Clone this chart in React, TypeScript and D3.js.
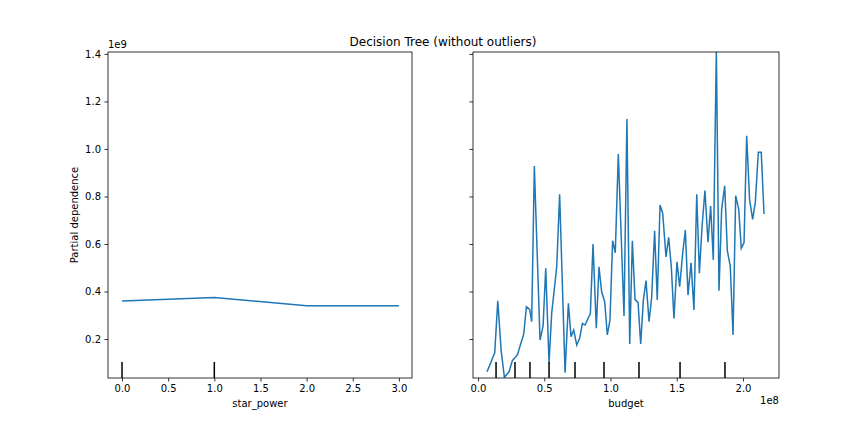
import { axisBottom, axisLeft, line, scaleLinear, select } from 'd3';
import { useEffect, useRef } from 'react';

const starPower = [0, 1, 2, 3];
const starPowerPd = [0.36, 0.375, 0.34, 0.34];
const starPowerDeciles = [0, 1];

const budget = [
  0.068, 0.126, 0.149, 0.174, 0.199, 0.234, 0.259, 0.297, 0.345, 0.365, 0.39, 0.405, 0.425, 0.468,
  0.491, 0.511, 0.536, 0.556, 0.594, 0.616, 0.657, 0.682, 0.702, 0.722, 0.745, 0.767, 0.788, 0.808,
  0.848, 0.868, 0.893, 0.913, 0.933, 0.956, 0.976, 0.996, 1.016, 1.036, 1.059, 1.102, 1.124, 1.145,
  1.165, 1.185, 1.208, 1.228, 1.248, 1.268, 1.291, 1.311, 1.333, 1.353, 1.374, 1.394, 1.419, 1.439,
  1.459, 1.479, 1.502, 1.522, 1.545, 1.565, 1.585, 1.608, 1.63, 1.651, 1.671, 1.691, 1.713, 1.736,
  1.756, 1.776, 1.799, 1.819, 1.839, 1.862, 1.882, 1.904, 1.925, 1.945, 1.968, 1.987, 2.008, 2.028,
  2.05, 2.073, 2.093, 2.116, 2.138, 2.159,
];
const budgetPd = [
  0.062, 0.142, 0.361, 0.154, 0.039, 0.062, 0.109, 0.133, 0.221, 0.336, 0.325, 0.273, 0.928, 0.196,
  0.255, 0.498, 0.1, 0.308, 0.504, 0.809, 0.058, 0.35, 0.21, 0.238, 0.175, 0.203, 0.266, 0.259,
  0.308, 0.6, 0.245, 0.504, 0.399, 0.357, 0.217, 0.28, 0.614, 0.563, 0.979, 0.297, 1.126, 0.179,
  0.614, 0.367, 0.353, 0.179, 0.364, 0.446, 0.273, 0.378, 0.656, 0.364, 0.764, 0.729, 0.546, 0.628,
  0.504, 0.287, 0.525, 0.42, 0.561, 0.659, 0.385, 0.521, 0.322, 0.809, 0.477, 0.673, 0.825, 0.608,
  0.76, 0.533, 1.42, 0.403, 0.746, 0.845, 0.572, 0.507, 0.217, 0.803, 0.746, 0.582, 0.606, 1.055,
  0.788, 0.704, 0.774, 0.986, 0.986, 0.726,
];
const budgetDeciles = [0.136, 0.279, 0.392, 0.536, 0.732, 0.951, 1.215, 1.525, 1.864];

const yTicks = [0.2, 0.4, 0.6, 0.8, 1.0, 1.2, 1.4];
const starTicks = [0, 0.5, 1, 1.5, 2, 2.5, 3];
const budgetTicks = [0, 0.5, 1, 1.5, 2];

const top = 52;
const bottom = 378;
const font = 'DejaVu Sans, sans-serif';
const blue = '#1f77b4';

const yScale = scaleLinear().domain([0.036, 1.408]).range([bottom, top]);

interface PanelProps {
  left: number;
  right: number;
  domain: [number, number];
  xs: number[];
  ys: number[];
  deciles: number[];
  xTicks: number[];
  xLabel: string;
  yLabels: boolean;
  id: string;
}

const Panel = ({ left, right, domain, xs, ys, deciles, xTicks, xLabel, yLabels, id }: PanelProps) => {
  const xRef = useRef<SVGGElement>(null);
  const yRef = useRef<SVGGElement>(null);
  const x = scaleLinear().domain(domain).range([left, right]);

  useEffect(() => {
    const style = (g: any) => {
      g.select('.domain').remove();
      g.selectAll('.tick line').attr('stroke', '#000').attr('stroke-width', 0.8);
      g.selectAll('.tick text').attr('font-family', font).attr('font-size', 10).attr('fill', '#000');
    };
    if (xRef.current) {
      select(xRef.current)
        .call(axisBottom(x).tickValues(xTicks).tickFormat((d: any) => d.toFixed(1)).tickSize(3.5).tickPadding(3.5))
        .call(style);
    }
    if (yRef.current) {
      select(yRef.current)
        .call(
          axisLeft(yScale)
            .tickValues(yTicks)
            .tickFormat((d: any) => (yLabels ? d.toFixed(1) : ''))
            .tickSize(3.5)
            .tickPadding(3.5),
        )
        .call(style);
    }
  }, []);

  const path = line<number>()
    .x((_, i) => x(xs[i]))
    .y((d) => yScale(d))(ys);

  return (
    <g>
      <clipPath id={id}>
        <rect x={left} y={top} width={right - left} height={bottom - top} />
      </clipPath>
      <path d={path ?? ''} fill="none" stroke={blue} strokeWidth={1.5} clipPath={`url(#${id})`} />
      {deciles.map((d) => (
        <line key={d} x1={x(d)} x2={x(d)} y1={bottom} y2={bottom - 16} stroke="#000" strokeWidth={1.5} />
      ))}
      <rect x={left} y={top} width={right - left} height={bottom - top} fill="none" stroke="#000" strokeWidth={0.8} />
      <g ref={xRef} transform={`translate(0,${bottom})`} />
      <g ref={yRef} transform={`translate(${left},0)`} />
      <text x={(left + right) / 2} y={407} textAnchor="middle" fontFamily={font} fontSize={10}>
        {xLabel}
      </text>
    </g>
  );
};

export default function App() {
  return (
    <svg width={864} height={432} style={{ position: 'absolute', left: 0, top: 0, background: '#fff' }}>
      <rect width={864} height={432} fill="#fff" />
      <text x={443} y={46} textAnchor="middle" fontFamily={font} fontSize={12}>
        Decision Tree (without outliers)
      </text>
      <text x={108} y={48} fontFamily={font} fontSize={10}>
        1e9
      </text>
      <text x={779} y={404} textAnchor="end" fontFamily={font} fontSize={10}>
        1e8
      </text>
      <text transform="translate(78,215) rotate(-90)" textAnchor="middle" fontFamily={font} fontSize={10}>
        Partial dependence
      </text>
      <Panel
        id="c1"
        left={108}
        right={412}
        domain={[-0.152, 3.142]}
        xs={starPower}
        ys={starPowerPd}
        deciles={starPowerDeciles}
        xTicks={starTicks}
        xLabel="star_power"
        yLabels
      />
      <Panel
        id="c2"
        left={473}
        right={779}
        domain={[-0.038, 2.272]}
        xs={budget}
        ys={budgetPd}
        deciles={budgetDeciles}
        xTicks={budgetTicks}
        xLabel="budget"
        yLabels={false}
      />
    </svg>
  );
}
